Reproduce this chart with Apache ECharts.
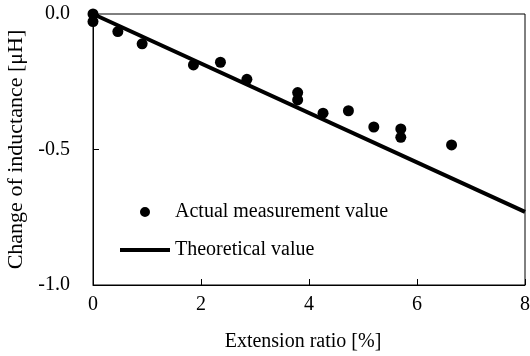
<!DOCTYPE html>
<html>
<head>
<meta charset="utf-8">
<script src="https://cdn.jsdelivr.net/npm/echarts@6/dist/echarts.min.js"></script>
<style>html,body{margin:0;padding:0;background:#fff}#c{width:530px;height:356px}</style>
</head>
<body>
<div id="c"></div>
<script>
// Measured data (extension ratio %, change of inductance μH)
const measX = [0, 0, 0.46, 0.91, 1.86, 2.36, 2.85, 3.79, 3.79, 4.26, 4.73, 5.20, 5.70, 5.70, 6.64];
const measY = [0.0, -0.028, -0.065, -0.11, -0.188, -0.178, -0.241, -0.29, -0.317, -0.366, -0.357, -0.417, -0.424, -0.455, -0.483];
// Theoretical line endpoints
const theoX = [0, 8];
const theoY = [0, -0.73];
const xTicks = [0, 2, 4, 6, 8];
const yTicks = [-1.0, -0.5, 0.0];

const font = 'Liberation Serif';
const fs = 20;
const dotIcon = 'path://M0,5 L0.01,5 Z M50,5 L49.99,5 Z M20,5 A5,5 0 1 1 30,5 A5,5 0 1 1 20,5 Z';
const chart = echarts.init(document.getElementById('c'), null, {renderer: 'canvas'});
chart.setOption({
  animation: false,
  backgroundColor: '#fff',
  textStyle: {fontFamily: font, color: '#000'},
  grid: {left: 93, right: 5, top: 14, bottom: 71, show: true, borderColor: '#000', borderWidth: 1, backgroundColor: 'transparent',
         containLabel: false, outerBoundsMode: 'none'},
  legend: [
    {data: [{name: 'Actual measurement value', icon: dotIcon}], left: 120, top: 202, padding: 0, itemWidth: 50, itemHeight: 10,
     textStyle: {fontFamily: font, fontSize: fs, color: '#000'}},
    {data: [{name: 'Theoretical value', icon: 'rect'}], left: 120, top: 240, padding: 0, itemWidth: 50, itemHeight: 4,
     textStyle: {fontFamily: font, fontSize: fs, color: '#000'}}
  ],
  xAxis: {
    type: 'value', min: xTicks[0], max: xTicks[xTicks.length - 1], interval: 2,
    name: 'Extension ratio [%]', nameLocation: 'middle', nameGap: 47,
    nameTextStyle: {fontFamily: font, fontSize: fs, color: '#000', padding: [0, 12, 0, 0]},
    axisLine: {show: true, onZero: false, lineStyle: {color: '#000', width: 1}},
    axisTick: {show: true, inside: true, length: 6, lineStyle: {color: '#000'}},
    axisLabel: {fontFamily: font, fontSize: fs, color: '#000', margin: 10},
    splitLine: {show: false}
  },
  yAxis: {
    type: 'value', min: yTicks[0], max: yTicks[yTicks.length - 1], interval: 0.5,
    name: 'Change of inductance [μH]', nameLocation: 'middle', nameGap: 58,
    nameTextStyle: {fontFamily: font, fontSize: 22, color: '#000'},
    axisLine: {show: true, onZero: false, lineStyle: {color: '#000', width: 1}},
    axisTick: {show: true, inside: true, length: 6, lineStyle: {color: '#000'}},
    axisLabel: {fontFamily: font, fontSize: fs, color: '#000', margin: 23, formatter: v => v.toFixed(1)},
    splitLine: {show: false}
  },
  series: [
    {
      name: 'Theoretical value', type: 'line', z: 2,
      data: theoX.map((x, i) => [x, theoY[i]]),
      showSymbol: false, symbol: 'none',
      lineStyle: {color: '#000', width: 4},
      itemStyle: {color: '#000'}
    },
    {
      name: 'Actual measurement value', type: 'scatter', z: 3, clip: false,
      data: measX.map((x, i) => [x, measY[i]]),
      symbol: 'circle', symbolSize: 11,
      itemStyle: {color: '#000', opacity: 1}
    }
  ]
});
</script>
</body>
</html>
